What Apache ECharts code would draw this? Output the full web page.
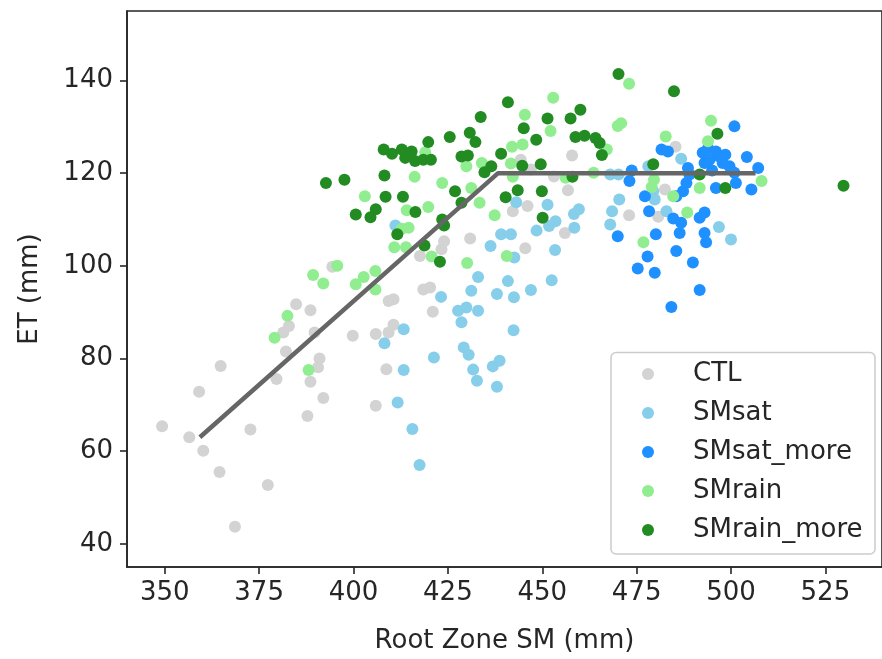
<!DOCTYPE html>
<html>
<head>
<meta charset="utf-8">
<script src="https://cdn.jsdelivr.net/npm/echarts@6/dist/echarts.min.js"></script>
<style>
html,body{margin:0;padding:0;background:#fff;}
#chart{width:882px;height:659px;}
</style>
</head>
<body>
<div id="chart"></div>
<script>
// ---- data (Root Zone SM [mm], ET [mm]) ----
const seriesNames = ['CTL', 'SMsat', 'SMsat_more', 'SMrain', 'SMrain_more'];
const xTicks = [350, 375, 400, 425, 450, 475, 500, 525];
const yTicks = [40, 60, 80, 100, 120, 140];

const ctl = [[384.8,91.7],[388.6,90.4],[382.9,87.0],[381.4,85.6],[389.7,85.6],[399.8,84.9],[405.9,85.3],[382.1,81.5],[364.8,78.4],[391.0,80.0],[390.6,78.1],[379.6,75.6],[388.6,75.0],[359.1,72.8],[392.0,71.5],[387.8,67.6],[349.3,65.4],[372.7,64.7],[356.5,63.0],[360.2,60.1],[364.5,55.5],[377.3,52.7],[368.6,43.7],[405.9,69.8],[394.4,99.8],[423.3,103.6],[417.6,102.1],[418.5,94.9],[420.3,95.3],[409.3,92.4],[410.6,92.8],[421.0,90.1],[410.6,87.3],[409.3,85.6],[408.7,77.7],[430.9,105.9],[424.0,105.3],[445.5,103.8],[446.1,112.9],[442.2,111.8],[457.9,123.8],[444.3,122.9],[453.1,119.3],[447.0,120.8],[456.8,116.3],[456.0,107.1],[473.0,110.9],[480.7,110.6],[485.3,125.7],[482.5,116.5]];

const smsat = [[411.1,108.7],[443.1,113.7],[448.5,107.6],[439.1,106.8],[441.7,106.8],[436.3,104.3],[442.6,101.8],[433.0,97.6],[440.9,96.7],[431.2,94.6],[438.0,93.9],[442.5,93.2],[447.0,94.8],[423.2,93.3],[427.7,90.3],[429.9,91.0],[433.0,90.3],[428.6,87.8],[413.3,86.3],[408.2,83.3],[442.4,86.1],[413.3,77.5],[421.3,80.2],[429.2,82.4],[430.5,80.8],[431.7,77.6],[432.7,75.2],[436.9,78.3],[438.7,79.5],[438.0,73.9],[411.7,70.5],[415.6,64.8],[417.5,57.0],[451.4,113.2],[459.7,112.2],[453.5,109.6],[451.8,108.6],[458.4,111.2],[458.5,108.2],[468.0,119.7],[470.2,119.7],[470.4,114.3],[468.5,111.8],[468.0,108.9],[453.4,103.4],[452.5,96.9],[486.8,123.1],[478.1,121.5],[479.4,116.1],[479.8,114.3],[482.9,111.8],[496.8,108.4],[500.0,105.7]];

const smsatMore = [[473.7,120.6],[473.1,118.3],[481.6,125.1],[477.2,115.0],[478.3,111.8],[470.0,106.4],[480.1,106.8],[477.9,102.0],[475.3,99.4],[479.8,98.5],[500.9,130.1],[483.3,124.7],[492.5,124.4],[493.9,125.4],[496.0,124.7],[496.9,123.6],[494.3,122.9],[497.8,122.2],[493.0,122.2],[504.2,123.5],[507.2,121.1],[499.6,121.5],[500.9,120.1],[501.3,117.9],[505.4,116.5],[496.0,116.8],[488.6,121.1],[489.0,119.7],[488.2,117.9],[487.3,116.1],[485.5,115.0],[491.7,110.4],[493.0,111.5],[484.7,110.2],[486.8,109.3],[486.4,107.1],[493.0,107.1],[493.4,105.1],[485.5,103.2],[489.9,100.7],[491.7,94.8],[484.2,91.1],[495.0,120.6],[498.5,124.0]];

const smrain = [[382.5,89.2],[379.1,84.5],[388.1,77.5],[416.2,119.2],[423.5,117.9],[403.0,115.0],[414.1,112.0],[419.8,112.7],[414.6,108.2],[412.8,108.0],[431.2,116.8],[433.4,113.6],[441.7,122.1],[437.4,110.9],[440.6,102.1],[410.8,104.0],[413.9,104.0],[420.7,102.0],[430.1,100.6],[389.3,98.0],[392.0,96.2],[395.7,100.0],[400.6,96.0],[402.7,97.6],[405.8,98.9],[405.8,94.9],[419.0,124.5],[429.9,121.5],[434.0,122.2],[445.4,132.6],[442.0,125.7],[444.8,126.2],[452.2,129.1],[452.9,136.3],[442.2,119.2],[463.6,120.1],[470.0,130.2],[467.1,125.1],[456.2,119.0],[479.0,117.0],[476.8,105.1],[473.0,139.3],[470.9,130.8],[494.7,131.3],[482.7,127.9],[493.9,126.9],[508.1,118.3],[491.7,116.8],[479.6,118.6],[484.7,115.0],[488.4,111.5]];

const smrainMore = [[392.7,117.9],[397.6,118.6],[408.2,119.5],[426.9,116.1],[408.5,114.9],[413.1,114.9],[416.4,111.6],[400.6,111.1],[405.9,112.2],[404.5,110.5],[411.6,106.8],[423.5,110.0],[424.0,108.7],[428.6,113.6],[439.1,124.2],[444.7,121.6],[449.6,121.9],[434.7,120.2],[436.5,121.5],[440.3,114.8],[443.5,116.3],[449.9,116.1],[450.1,110.4],[418.8,104.4],[422.9,100.9],[408.0,125.1],[410.2,124.2],[412.8,125.1],[415.4,124.7],[413.7,123.3],[416.3,122.6],[418.5,122.9],[420.5,122.9],[419.8,126.7],[425.5,127.8],[430.8,128.7],[432.3,126.7],[428.6,123.6],[430.3,123.8],[433.7,132.1],[440.9,135.3],[445.1,129.7],[448.4,127.2],[451.4,131.8],[457.5,131.8],[460.1,133.7],[458.8,127.8],[461.2,128.1],[464.1,127.6],[465.2,126.5],[465.8,123.9],[458.0,119.2],[479.4,121.9],[470.2,141.4],[484.9,137.7],[496.4,128.5],[498.5,116.8],[491.7,119.7],[529.8,117.3]];

const fitX = [359.3, 438.3, 506.5];
const fitY = [63.0, 120.0, 120.0];

// ---- chart ----
const colors = ['#d3d3d3', '#87ceeb', '#1e90ff', '#90ee90', '#228b22'];
const groups = [ctl, smsat, smsatMore, smrain, smrainMore];
const FONT = '"DejaVu Sans", sans-serif';
const AX = '#262626';

const series = groups.map((g, i) => ({
  name: seriesNames[i],
  type: 'scatter',
  data: g,
  symbol: 'circle',
  symbolSize: 12,
  itemStyle: { color: colors[i], opacity: 1 },
  emphasis: { disabled: true },
  z: 2 + i
}));
series.push({
  name: 'fit',
  type: 'line',
  data: fitX.map((x, i) => [x, fitY[i]]),
  symbol: 'none',
  lineStyle: { color: '#666666', width: 4.5 },
  z: 10,
  silent: true
});

const chart = echarts.init(document.getElementById('chart'), null, { renderer: 'canvas' });
chart.setOption({
  animation: false,
  backgroundColor: '#fff',
  grid: { left: 127, top: 11, right: -5, bottom: 91, show: true, borderColor: AX, borderWidth: 1.6, backgroundColor: 'transparent' },
  xAxis: {
    type: 'value', min: 340, max: 540,
    name: 'Root Zone SM (mm)', nameLocation: 'middle', nameGap: 61,
    nameTextStyle: { fontFamily: FONT, fontSize: 26, color: AX },
    axisLine: { show: true, lineStyle: { color: AX, width: 1.6 } },
    axisTick: { show: true, inside: false, length: 7, lineStyle: { color: AX, width: 1.6 }, customValues: xTicks },
    axisLabel: { fontFamily: FONT, fontSize: 26, color: AX, margin: 13, customValues: xTicks },
    splitLine: { show: false }
  },
  yAxis: {
    type: 'value', min: 35, max: 155,
    name: 'ET (mm)', nameLocation: 'middle', nameGap: 84, nameRotate: 90,
    nameTextStyle: { fontFamily: FONT, fontSize: 26, color: AX },
    axisLine: { show: true, lineStyle: { color: AX, width: 1.6 } },
    axisTick: { show: true, inside: false, length: 7, lineStyle: { color: AX, width: 1.6 }, customValues: yTicks },
    axisLabel: { fontFamily: FONT, fontSize: 26, color: AX, margin: 14, customValues: yTicks },
    splitLine: { show: false }
  },
  legend: {
    data: seriesNames,
    orient: 'vertical',
    left: 642, top: 359,
    padding: 0,
    itemWidth: 12, itemHeight: 12, itemGap: 9,
    icon: 'circle',
    selectedMode: false,
    z: 20,
    textStyle: { fontFamily: FONT, fontSize: 26, color: AX, lineHeight: 30, padding: [0, 0, 0, 34] }
  },
  graphic: [{
    type: 'rect', z: 15, silent: true,
    shape: { x: 611, y: 352.5, width: 264, height: 201.5, r: 5 },
    style: { fill: 'rgba(255,255,255,0.85)', stroke: '#cccccc', lineWidth: 1.5 }
  }],
  series: series
});
</script>
</body>
</html>
